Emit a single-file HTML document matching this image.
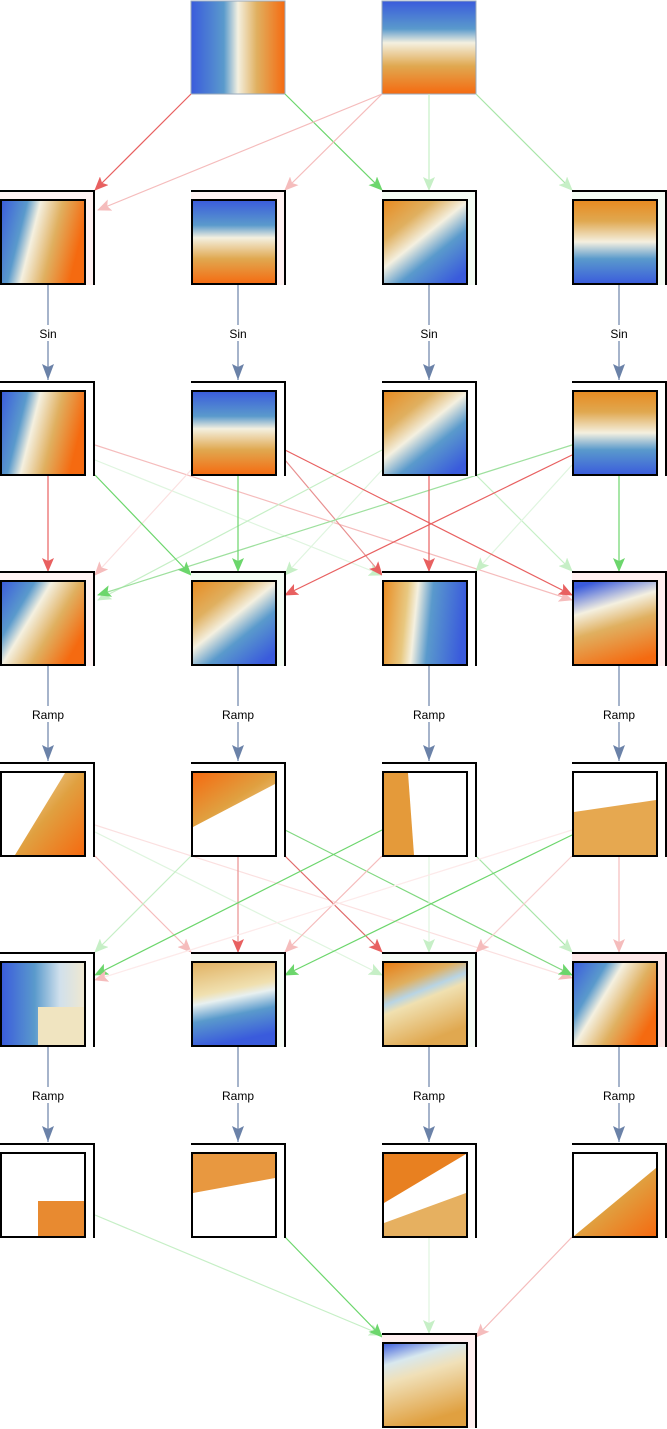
<!DOCTYPE html>
<html><head><meta charset="utf-8"><style>html,body{margin:0;padding:0;background:#fff}svg{display:block}text{font-family:"Liberation Sans",sans-serif;font-size:12px}</style></head>
<body>
<svg width="667" height="1429" viewBox="0 0 667 1429" xmlns="http://www.w3.org/2000/svg">
<defs>
<marker id="mR" markerWidth="14" markerHeight="12" refX="13" refY="6" orient="auto" markerUnits="userSpaceOnUse" viewBox="0 0 14 12"><path d="M0 0L14 6L0 12L3 6z" fill="#e86060"/></marker>
<marker id="mP" markerWidth="14" markerHeight="12" refX="13" refY="6" orient="auto" markerUnits="userSpaceOnUse" viewBox="0 0 14 12"><path d="M0 0L14 6L0 12L3 6z" fill="#f5bcbc"/></marker>
<marker id="mG" markerWidth="14" markerHeight="12" refX="13" refY="6" orient="auto" markerUnits="userSpaceOnUse" viewBox="0 0 14 12"><path d="M0 0L14 6L0 12L3 6z" fill="#6cd66c"/></marker>
<marker id="mL" markerWidth="14" markerHeight="12" refX="13" refY="6" orient="auto" markerUnits="userSpaceOnUse" viewBox="0 0 14 12"><path d="M0 0L14 6L0 12L3 6z" fill="#c6efc6"/></marker>
<marker id="mB" markerWidth="16" markerHeight="12" refX="16" refY="6" orient="auto" markerUnits="userSpaceOnUse" viewBox="0 0 16 12"><path d="M0 0L16 6L0 12L3 6z" fill="#6b82a8"/></marker>
<linearGradient id="gH" x1="0" y1="0" x2="1" y2="0"><stop offset="0" stop-color="#3a5bdc"/><stop offset=".35" stop-color="#5a9acc"/><stop offset=".5" stop-color="#f4f0e0"/><stop offset=".7" stop-color="#e0b060"/><stop offset="1" stop-color="#f56a10"/></linearGradient>
<linearGradient id="gV" x1="0" y1="0" x2="0" y2="1"><stop offset="0" stop-color="#3a5bdc"/><stop offset=".3" stop-color="#5a9acc"/><stop offset=".45" stop-color="#f4f0e0"/><stop offset=".7" stop-color="#e0a850"/><stop offset="1" stop-color="#f56a10"/></linearGradient>
<linearGradient id="gVr" x1="0" y1="1" x2="0" y2="0"><stop offset="0" stop-color="#3a5bdc"/><stop offset=".3" stop-color="#5a9acc"/><stop offset=".5" stop-color="#f4f0e0"/><stop offset=".75" stop-color="#e0a850"/><stop offset="1" stop-color="#e88a20"/></linearGradient>
<linearGradient id="gT" x1="0" y1="0" x2="1" y2=".25"><stop offset="0" stop-color="#3a5bdc"/><stop offset=".3" stop-color="#5a9acc"/><stop offset=".45" stop-color="#f4f0e0"/><stop offset=".7" stop-color="#e0b060"/><stop offset="1" stop-color="#f56a10"/></linearGradient>
<linearGradient id="gD1" x1="0" y1="0" x2="1" y2=".6"><stop offset="0" stop-color="#3a5bdc"/><stop offset=".3" stop-color="#5a9acc"/><stop offset=".45" stop-color="#f4f0e0"/><stop offset=".7" stop-color="#e0b060"/><stop offset="1" stop-color="#f56a10"/></linearGradient>
<linearGradient id="gD2" x1="0" y1="0" x2=".8" y2="1"><stop offset="0" stop-color="#e88a20"/><stop offset=".3" stop-color="#e0b060"/><stop offset=".5" stop-color="#f4f0e0"/><stop offset=".7" stop-color="#5a9acc"/><stop offset="1" stop-color="#3a5bdc"/></linearGradient>
<linearGradient id="gHr" x1="0" y1="0" x2="1" y2=".1"><stop offset="0" stop-color="#e88a20"/><stop offset=".3" stop-color="#e8c880"/><stop offset=".42" stop-color="#f4f0e0"/><stop offset=".6" stop-color="#5a9acc"/><stop offset="1" stop-color="#3a5bdc"/></linearGradient>
<linearGradient id="gD3" x1=".3" y1="0" x2=".6" y2="1"><stop offset="0" stop-color="#3a5bdc"/><stop offset=".3" stop-color="#f4f0e0"/><stop offset=".55" stop-color="#e0b060"/><stop offset="1" stop-color="#f56a10"/></linearGradient>
<linearGradient id="gO" x1="0" y1="0" x2="1" y2="1"><stop offset="0" stop-color="#f4e4c0"/><stop offset=".5" stop-color="#e0a040"/><stop offset="1" stop-color="#f56a10"/></linearGradient>
<linearGradient id="gO2" x1="1" y1="1" x2="0" y2="0"><stop offset="0" stop-color="#f4e4c0"/><stop offset=".5" stop-color="#e0a040"/><stop offset="1" stop-color="#f56a10"/></linearGradient>
<linearGradient id="g50" x1="0" y1="0" x2="1" y2="0"><stop offset="0" stop-color="#3a5bdc"/><stop offset=".4" stop-color="#5a9acc"/><stop offset=".7" stop-color="#d0e0ec"/><stop offset="1" stop-color="#f0e8d0"/></linearGradient>
<linearGradient id="g51" x1="0" y1="0" x2=".2" y2="1"><stop offset="0" stop-color="#e0b060"/><stop offset=".4" stop-color="#f0e0b0"/><stop offset=".5" stop-color="#e8f0f0"/><stop offset=".7" stop-color="#5a9acc"/><stop offset="1" stop-color="#3a5bdc"/></linearGradient>
<linearGradient id="g52" x1="0" y1="0" x2=".4" y2="1"><stop offset="0" stop-color="#e87a10"/><stop offset=".3" stop-color="#e0b060"/><stop offset=".45" stop-color="#b8d4e4"/><stop offset=".55" stop-color="#f0e0b0"/><stop offset="1" stop-color="#e0a850"/></linearGradient>
<linearGradient id="gF" x1="0" y1="0" x2=".3" y2="1"><stop offset="0" stop-color="#3a5bdc"/><stop offset=".25" stop-color="#d8e8ee"/><stop offset=".45" stop-color="#f0e0b8"/><stop offset="1" stop-color="#e0a040"/></linearGradient>
</defs>

<rect x="191" y="1" width="94" height="93" fill="url(#gH)" stroke="#9ab" stroke-width="1"/>
<rect x="382" y="1" width="94" height="93" fill="url(#gV)" stroke="#9ab" stroke-width="1"/>

<g fill="none" stroke-width="1.2">
<line x1="191" y1="94" x2="95" y2="190" stroke="#e86060" marker-end="url(#mR)"/>
<line x1="285" y1="94" x2="382" y2="190" stroke="#6cd66c" marker-end="url(#mG)"/>
<line x1="382" y1="94" x2="98" y2="210" stroke="#f5bcbc" marker-end="url(#mP)"/>
<line x1="382" y1="94" x2="285" y2="190" stroke="#f5bcbc" marker-end="url(#mP)"/>
<line x1="429" y1="94" x2="429" y2="190" stroke="#c6efc6" marker-end="url(#mL)"/>
<line x1="476" y1="94" x2="572" y2="190" stroke="#a8e6a8" marker-end="url(#mL)"/>
</g>

<g stroke="#6b82a8" stroke-width="1.2" marker-end="url(#mB)">
<line x1="48" y1="285" x2="48" y2="380"/><line x1="238" y1="285" x2="238" y2="380"/><line x1="429" y1="285" x2="429" y2="380"/><line x1="619" y1="285" x2="619" y2="380"/>
<line x1="48" y1="666" x2="48" y2="761"/><line x1="238" y1="666" x2="238" y2="761"/><line x1="429" y1="666" x2="429" y2="761"/><line x1="619" y1="666" x2="619" y2="761"/>
<line x1="48" y1="1047" x2="48" y2="1142"/><line x1="238" y1="1047" x2="238" y2="1142"/><line x1="429" y1="1047" x2="429" y2="1142"/><line x1="619" y1="1047" x2="619" y2="1142"/>
</g>
<g text-anchor="middle" fill="#000">
<rect x="36" y="325" width="24" height="16" fill="#fff"/><text x="48" y="338">Sin</text>
<rect x="226" y="325" width="24" height="16" fill="#fff"/><text x="238" y="338">Sin</text>
<rect x="417" y="325" width="24" height="16" fill="#fff"/><text x="429" y="338">Sin</text>
<rect x="607" y="325" width="24" height="16" fill="#fff"/><text x="619" y="338">Sin</text>
<rect x="31" y="706" width="34" height="16" fill="#fff"/><text x="48" y="719">Ramp</text>
<rect x="221" y="706" width="34" height="16" fill="#fff"/><text x="238" y="719">Ramp</text>
<rect x="412" y="706" width="34" height="16" fill="#fff"/><text x="429" y="719">Ramp</text>
<rect x="602" y="706" width="34" height="16" fill="#fff"/><text x="619" y="719">Ramp</text>
<rect x="31" y="1087" width="34" height="16" fill="#fff"/><text x="48" y="1100">Ramp</text>
<rect x="221" y="1087" width="34" height="16" fill="#fff"/><text x="238" y="1100">Ramp</text>
<rect x="412" y="1087" width="34" height="16" fill="#fff"/><text x="429" y="1100">Ramp</text>
<rect x="602" y="1087" width="34" height="16" fill="#fff"/><text x="619" y="1100">Ramp</text>
</g>

<g fill="none" stroke-width="1.2">
<line x1="95" y1="445" x2="572" y2="600" stroke="#f5bcbc" marker-end="url(#mP)"/>
<line x1="95" y1="460" x2="382" y2="575" stroke="#dff5df" marker-end="url(#mL)"/>
<line x1="191" y1="470" x2="95" y2="575" stroke="#fbe0e0" marker-end="url(#mP)"/>
<line x1="285" y1="460" x2="382" y2="575" stroke="#e89090" marker-end="url(#mR)"/>
<line x1="382" y1="450" x2="98" y2="600" stroke="#c6efc6" marker-end="url(#mL)"/>
<line x1="382" y1="470" x2="285" y2="575" stroke="#dff5df" marker-end="url(#mL)"/>
<line x1="476" y1="475" x2="572" y2="571" stroke="#c6efc6" marker-end="url(#mL)"/>
<line x1="572" y1="445" x2="98" y2="595" stroke="#9ee09e" marker-end="url(#mG)"/>
<line x1="572" y1="455" x2="285" y2="595" stroke="#e86060" marker-end="url(#mR)"/>
<line x1="572" y1="465" x2="476" y2="571" stroke="#dff5df" marker-end="url(#mL)"/>
<line x1="285" y1="450" x2="572" y2="595" stroke="#e86060" marker-end="url(#mR)"/>
<line x1="95" y1="475" x2="191" y2="575" stroke="#6cd66c" marker-end="url(#mG)"/>
<line x1="48" y1="475" x2="48" y2="571" stroke="#e86060" marker-end="url(#mR)"/>
<line x1="238" y1="475" x2="238" y2="571" stroke="#6cd66c" marker-end="url(#mG)"/>
<line x1="429" y1="475" x2="429" y2="571" stroke="#e86060" marker-end="url(#mR)"/>
<line x1="619" y1="475" x2="619" y2="571" stroke="#6cd66c" marker-end="url(#mG)"/>
</g>

<g fill="none" stroke-width="1.2">
<line x1="95" y1="825" x2="572" y2="978" stroke="#fbe0e0" marker-end="url(#mP)"/>
<line x1="95" y1="832" x2="382" y2="975" stroke="#dff5df" marker-end="url(#mL)"/>
<line x1="95" y1="856" x2="191" y2="952" stroke="#f5bcbc" marker-end="url(#mP)"/>
<line x1="191" y1="856" x2="95" y2="952" stroke="#c6efc6" marker-end="url(#mL)"/>
<line x1="238" y1="856" x2="238" y2="952" stroke="#e89090" marker-end="url(#mR)"/>
<line x1="285" y1="856" x2="382" y2="952" stroke="#e06a6a" marker-end="url(#mR)"/>
<line x1="285" y1="830" x2="572" y2="975" stroke="#80d880" marker-end="url(#mG)"/>
<line x1="382" y1="856" x2="285" y2="952" stroke="#f5bcbc" marker-end="url(#mP)"/>
<line x1="382" y1="830" x2="95" y2="975" stroke="#6cd66c" marker-end="url(#mG)"/>
<line x1="429" y1="856" x2="429" y2="952" stroke="#dff5df" marker-end="url(#mL)"/>
<line x1="476" y1="856" x2="572" y2="952" stroke="#a8e6a8" marker-end="url(#mL)"/>
<line x1="572" y1="835" x2="285" y2="975" stroke="#6cd66c" marker-end="url(#mG)"/>
<line x1="572" y1="856" x2="476" y2="952" stroke="#f8d0d0" marker-end="url(#mP)"/>
<line x1="572" y1="830" x2="95" y2="980" stroke="#fdeaea" marker-end="url(#mP)"/>
<line x1="619" y1="856" x2="619" y2="952" stroke="#f5bcbc" marker-end="url(#mP)"/>
</g>

<g fill="none" stroke-width="1.2">
<line x1="95" y1="1215" x2="382" y2="1335" stroke="#c6efc6" marker-end="url(#mL)"/>
<line x1="285" y1="1237" x2="382" y2="1337" stroke="#6cd66c" marker-end="url(#mG)"/>
<line x1="429" y1="1237" x2="429" y2="1333" stroke="#dff5df" marker-end="url(#mL)"/>
<line x1="572" y1="1237" x2="476" y2="1337" stroke="#f5bcbc" marker-end="url(#mP)"/>
</g>

<g>
<g transform="translate(0,190)"><rect width="95" height="95" fill="#fff2f2"/><path d="M0 1H94V95" stroke="#000" stroke-width="2" fill="none"/><rect x="1" y="10" width="84" height="84" fill="url(#gT)" stroke="#000" stroke-width="2"/></g>
<g transform="translate(191,190)"><rect width="95" height="95" fill="#fff2f2"/><path d="M0 1H94V95" stroke="#000" stroke-width="2" fill="none"/><rect x="1" y="10" width="84" height="84" fill="url(#gV)" stroke="#000" stroke-width="2"/></g>
<g transform="translate(382,190)"><rect width="95" height="95" fill="#f4fcf4"/><path d="M0 1H94V95" stroke="#000" stroke-width="2" fill="none"/><rect x="1" y="10" width="84" height="84" fill="url(#gD2)" stroke="#000" stroke-width="2"/></g>
<g transform="translate(572,190)"><rect width="95" height="95" fill="#f4fcf4"/><path d="M0 1H94V95" stroke="#000" stroke-width="2" fill="none"/><rect x="1" y="10" width="84" height="84" fill="url(#gVr)" stroke="#000" stroke-width="2"/></g>

<g transform="translate(0,381)"><rect width="95" height="95" fill="#fff"/><path d="M0 1H94V95" stroke="#000" stroke-width="2" fill="none"/><rect x="1" y="10" width="84" height="84" fill="url(#gT)" stroke="#000" stroke-width="2"/></g>
<g transform="translate(191,381)"><rect width="95" height="95" fill="#fff"/><path d="M0 1H94V95" stroke="#000" stroke-width="2" fill="none"/><rect x="1" y="10" width="84" height="84" fill="url(#gV)" stroke="#000" stroke-width="2"/></g>
<g transform="translate(382,381)"><rect width="95" height="95" fill="#fff"/><path d="M0 1H94V95" stroke="#000" stroke-width="2" fill="none"/><rect x="1" y="10" width="84" height="84" fill="url(#gD2)" stroke="#000" stroke-width="2"/></g>
<g transform="translate(572,381)"><rect width="95" height="95" fill="#fff"/><path d="M0 1H94V95" stroke="#000" stroke-width="2" fill="none"/><rect x="1" y="10" width="84" height="84" fill="url(#gVr)" stroke="#000" stroke-width="2"/></g>

<g transform="translate(0,571)"><rect width="95" height="95" fill="#fff4f4"/><path d="M0 1H94V95" stroke="#000" stroke-width="2" fill="none"/><rect x="1" y="10" width="84" height="84" fill="url(#gD1)" stroke="#000" stroke-width="2"/></g>
<g transform="translate(191,571)"><rect width="95" height="95" fill="#f4fcf4"/><path d="M0 1H94V95" stroke="#000" stroke-width="2" fill="none"/><rect x="1" y="10" width="84" height="84" fill="url(#gD2)" stroke="#000" stroke-width="2"/></g>
<g transform="translate(382,571)"><rect width="95" height="95" fill="#fff"/><path d="M0 1H94V95" stroke="#000" stroke-width="2" fill="none"/><rect x="1" y="10" width="84" height="84" fill="url(#gHr)" stroke="#000" stroke-width="2"/></g>
<g transform="translate(572,571)"><rect width="95" height="95" fill="#fff0f0"/><path d="M0 1H94V95" stroke="#000" stroke-width="2" fill="none"/><rect x="1" y="10" width="84" height="84" fill="url(#gD3)" stroke="#000" stroke-width="2"/></g>

<g transform="translate(0,762)"><rect width="95" height="95" fill="#fff"/><path d="M0 1H94V95" stroke="#000" stroke-width="2" fill="none"/><rect x="1" y="10" width="84" height="84" fill="#fff" stroke="#000" stroke-width="2"/><polygon points="65,11 84,11 84,93 15,93" fill="url(#gO)"/><rect x="1" y="10" width="84" height="84" fill="none" stroke="#000" stroke-width="2"/></g>
<g transform="translate(191,762)"><rect width="95" height="95" fill="#fff"/><path d="M0 1H94V95" stroke="#000" stroke-width="2" fill="none"/><rect x="1" y="10" width="84" height="84" fill="#fff" stroke="#000" stroke-width="2"/><polygon points="2,11 84,11 84,22 2,65" fill="url(#gO2)"/><rect x="1" y="10" width="84" height="84" fill="none" stroke="#000" stroke-width="2"/></g>
<g transform="translate(382,762)"><rect width="95" height="95" fill="#fff"/><path d="M0 1H94V95" stroke="#000" stroke-width="2" fill="none"/><rect x="1" y="10" width="84" height="84" fill="#fff" stroke="#000" stroke-width="2"/><polygon points="2,11 26,11 32,93 2,93" fill="#e49a3a"/><rect x="1" y="10" width="84" height="84" fill="none" stroke="#000" stroke-width="2"/></g>
<g transform="translate(572,762)"><rect width="95" height="95" fill="#fff"/><path d="M0 1H94V95" stroke="#000" stroke-width="2" fill="none"/><rect x="1" y="10" width="84" height="84" fill="#fff" stroke="#000" stroke-width="2"/><polygon points="2,50 84,38 84,93 2,93" fill="#e6a850"/><rect x="1" y="10" width="84" height="84" fill="none" stroke="#000" stroke-width="2"/></g>

<g transform="translate(0,952)"><rect width="95" height="95" fill="#fff"/><path d="M0 1H94V95" stroke="#000" stroke-width="2" fill="none"/><rect x="1" y="10" width="84" height="84" fill="url(#g50)" stroke="#000" stroke-width="2"/><rect x="38" y="55" width="46" height="38" fill="#f0e4c0"/><rect x="1" y="10" width="84" height="84" fill="none" stroke="#000" stroke-width="2"/></g>
<g transform="translate(191,952)"><rect width="95" height="95" fill="#f6fcf6"/><path d="M0 1H94V95" stroke="#000" stroke-width="2" fill="none"/><rect x="1" y="10" width="84" height="84" fill="url(#g51)" stroke="#000" stroke-width="2"/></g>
<g transform="translate(382,952)"><rect width="95" height="95" fill="#f6fcf6"/><path d="M0 1H94V95" stroke="#000" stroke-width="2" fill="none"/><rect x="1" y="10" width="84" height="84" fill="url(#g52)" stroke="#000" stroke-width="2"/></g>
<g transform="translate(572,952)"><rect width="95" height="95" fill="#fde8e8"/><path d="M0 1H94V95" stroke="#000" stroke-width="2" fill="none"/><rect x="1" y="10" width="84" height="84" fill="url(#gD1)" stroke="#000" stroke-width="2"/></g>

<g transform="translate(0,1143)"><rect width="95" height="95" fill="#fff"/><path d="M0 1H94V95" stroke="#000" stroke-width="2" fill="none"/><rect x="1" y="10" width="84" height="84" fill="#fff" stroke="#000" stroke-width="2"/><rect x="38" y="58" width="46" height="35" fill="#e88a30"/><rect x="1" y="10" width="84" height="84" fill="none" stroke="#000" stroke-width="2"/></g>
<g transform="translate(191,1143)"><rect width="95" height="95" fill="#fff"/><path d="M0 1H94V95" stroke="#000" stroke-width="2" fill="none"/><rect x="1" y="10" width="84" height="84" fill="#fff" stroke="#000" stroke-width="2"/><polygon points="2,11 84,11 84,35 2,50" fill="#e89840"/><rect x="1" y="10" width="84" height="84" fill="none" stroke="#000" stroke-width="2"/></g>
<g transform="translate(382,1143)"><rect width="95" height="95" fill="#fff"/><path d="M0 1H94V95" stroke="#000" stroke-width="2" fill="none"/><rect x="1" y="10" width="84" height="84" fill="#fff" stroke="#000" stroke-width="2"/><polygon points="2,11 84,11 2,60" fill="#e88020"/><polygon points="2,80 84,50 84,93 2,93" fill="#e6b060"/><rect x="1" y="10" width="84" height="84" fill="none" stroke="#000" stroke-width="2"/></g>
<g transform="translate(572,1143)"><rect width="95" height="95" fill="#fff"/><path d="M0 1H94V95" stroke="#000" stroke-width="2" fill="none"/><rect x="1" y="10" width="84" height="84" fill="#fff" stroke="#000" stroke-width="2"/><polygon points="84,25 84,93 2,93" fill="url(#gO)"/><rect x="1" y="10" width="84" height="84" fill="none" stroke="#000" stroke-width="2"/></g>

<g transform="translate(382,1333)"><rect width="95" height="95" fill="#fff0f0"/><path d="M0 1H94V95" stroke="#000" stroke-width="2" fill="none"/><rect x="1" y="10" width="84" height="84" fill="url(#gF)" stroke="#000" stroke-width="2"/></g>
</g>
</svg>
</body></html>
